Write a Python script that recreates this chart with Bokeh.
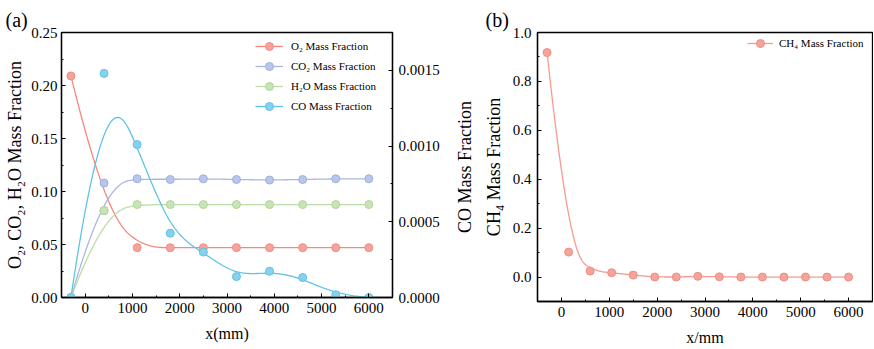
import numpy as np
from bokeh.plotting import figure
from bokeh.models import (Range1d, LinearAxis, SingleIntervalTicker, FixedTicker,
                          NumeralTickFormatter, Legend, LegendItem)
from bokeh.layouts import row
from bokeh.embed import file_html
from bokeh.resources import INLINE

# ---------------- data ----------------
x_a = [-300, 400, 1100, 1800, 2500, 3200, 3900, 4600, 5300, 6000]
o2 = [0.209, 0.082, 0.047, 0.047, 0.047, 0.047, 0.047, 0.047, 0.047, 0.047]
co2 = [0.0, 0.108, 0.112, 0.1113, 0.112, 0.1113, 0.1108, 0.1113, 0.112, 0.112]
h2o = [0.0, 0.082, 0.0877, 0.0877, 0.0877, 0.0877, 0.0877, 0.0877, 0.0877, 0.0877]
co = [0.0, 0.00148, 0.00101, 0.000425, 0.000300, 0.000138, 0.000173, 0.000132, 0.000018, 0.0]

x_b = [-300, 150, 600, 1050, 1500, 1950, 2400, 2850, 3300, 3750, 4200, 4650, 5100, 5550, 6000]
ch4 = [0.918, 0.102, 0.0245, 0.0177, 0.008, 0.0, 0.0, 0.003, 0.001, 0.0, 0.0, 0.0, 0.0, 0.0, 0.0]

labels_a = ["O\u2082 Mass Fraction", "CO\u2082 Mass Fraction", "H\u2082O Mass Fraction", "CO Mass Fraction"]
label_b = "CH\u2084 Mass Fraction"
co_axis_title = "CO Mass Fraction"

FONT = "Liberation Serif"


def bspline(xs, ys, k=3, num=400):
    """Clamped uniform cubic B-spline using the data points as control points."""
    P = np.column_stack([xs, ys]).astype(float)
    n = len(P)
    nseg = n - k
    knots = np.concatenate([np.zeros(k), np.arange(nseg + 1), np.full(k, nseg)]).astype(float)
    u = np.linspace(0, nseg, num)
    m = len(knots) - 1
    N = np.zeros((num, m))
    for i in range(m):
        N[:, i] = ((u >= knots[i]) & (u < knots[i + 1])).astype(float)
    last = np.where(knots[:-1] < knots[1:])[0][-1]
    N[u >= nseg, :] = 0
    N[u >= nseg, last] = 1
    for d in range(1, k + 1):
        Nn = np.zeros((num, m - d))
        for i in range(m - d):
            a = knots[i + d] - knots[i]
            b = knots[i + d + 1] - knots[i + 1]
            t1 = (u - knots[i]) / a * N[:, i] if a > 0 else 0.0
            t2 = (knots[i + d + 1] - u) / b * N[:, i + 1] if b > 0 else 0.0
            Nn[:, i] = t1 + t2
        N = Nn
    C = N @ P
    return C[:, 0], C[:, 1]


def style_axis(ax, fmt, interval, label, label_size, tick_standoff, label_standoff):
    ax.ticker = SingleIntervalTicker(interval=interval, num_minor_ticks=2)
    ax.formatter = NumeralTickFormatter(format=fmt)
    ax.axis_label = label
    ax.axis_label_text_font = FONT
    ax.axis_label_text_font_style = "normal"
    ax.axis_label_text_font_size = label_size
    ax.axis_label_text_color = "black"
    ax.major_label_text_font = FONT
    ax.major_label_text_font_size = "15px"
    ax.major_label_text_color = "black"
    ax.major_tick_in = 4
    ax.major_tick_out = 0
    ax.minor_tick_in = 2
    ax.minor_tick_out = 0
    ax.major_tick_line_color = "black"
    ax.minor_tick_line_color = "black"
    ax.axis_line_color = "black"
    ax.axis_line_width = 1.3
    ax.major_label_standoff = tick_standoff
    ax.axis_label_standoff = label_standoff


def base_fig(border_left, frame_w, border_right, border_top, frame_h, yr, panel_text, title_offset):
    p = figure(frame_width=frame_w, frame_height=frame_h, min_border_left=border_left,
               min_border_right=border_right, min_border_top=border_top,
               min_border_bottom=348 - border_top - frame_h,
               x_range=Range1d(-500, 6500), y_range=yr,
               output_backend="svg", toolbar_location=None)
    p.xgrid.visible = False
    p.ygrid.visible = False
    p.outline_line_color = "black"
    p.outline_line_width = 1.3
    p.outline_line_alpha = 1.0
    p.background_fill_color = "white"
    p.border_fill_color = "white"
    p.title.text = panel_text
    p.title.text_font = FONT
    p.title.text_font_size = "20px"
    p.title.text_font_style = "normal"
    p.title.text_color = "black"
    p.title.align = "left"
    p.title.vertical_align = "top"
    p.title.standoff = 0
    p.title.offset = title_offset
    return p


# ---------------- panel (a) ----------------
p1 = base_fig(61, 331, 55, 32, 265, Range1d(0, 0.25), "(a)", -56)
p1.extra_y_ranges = {"co": Range1d(0, 0.00175)}

style_axis(p1.xaxis[0], "0", 1000, "x(mm)", "16px", 5, 9)
style_axis(p1.yaxis[0], "0.00", 0.05, "O\u2082, CO\u2082, H\u2082O Mass Fraction", "18px", 4, 3)

ax_r = LinearAxis(y_range_name="co")
style_axis(ax_r, "0.0000", 0.0005, None, "18px", 6, 2)
p1.add_layout(ax_r, "right")

series = [
    (o2, "#F7877C", "#F5A39B", "#EE8D84", "default"),
    (co2, "#A8B8E4", "#B8C6EA", "#9FB0DE", "default"),
    (h2o, "#BCDDA6", "#C8E3B5", "#B2D69B", "default"),
    (co, "#5EC3E4", "#86D2EE", "#5FC0E2", "co"),
]
items = []
for (ys, lc, fc, mc, rn), lab in zip(series, labels_a):
    sx, sy = bspline(x_a, ys)
    r_line = p1.line(sx, sy, line_color=lc, line_width=1.3, y_range_name=rn)
    r_pts = p1.scatter(x_a, ys, marker="circle", size=8, fill_color=fc, line_color=mc,
                       line_width=1, y_range_name=rn)
    items.append(LegendItem(label=lab, renderers=[r_line, r_pts]))

leg1 = Legend(items=items, location=(189, 176), padding=5, margin=0, spacing=0,
              glyph_width=28, glyph_height=20, label_height=20, label_standoff=8,
              label_text_font=FONT, label_text_font_size="11px", label_text_color="black",
              border_line_alpha=0, background_fill_alpha=0)
p1.add_layout(leg1)

# ---------------- panel (b) ----------------
p2 = base_fig(90, 335, 1, 28, 269, Range1d(-0.1, 1.0), "(b)", -52)
style_axis(p2.xaxis[0], "0", 1000, "x/mm", "16px", 5, 9)
style_axis(p2.yaxis[0], "0.0", 0.2, "CH\u2084 Mass Fraction", "18px", 6, 6)

# title of panel (a)'s right-hand CO axis, which sits in the gap between the panels
co_title_axis = LinearAxis(ticker=FixedTicker(ticks=[]), axis_label=co_axis_title,
                           axis_label_text_font=FONT, axis_label_text_font_style="normal",
                           axis_label_text_font_size="18px", axis_label_text_color="black",
                           axis_label_standoff=6, major_label_standoff=0,
                           major_tick_in=0, major_tick_out=0, minor_tick_in=0, minor_tick_out=0,
                           axis_line_alpha=0)
p2.add_layout(co_title_axis, "left")

bx, by = bspline(x_b, ch4)
l2 = p2.line(bx, by, line_color="#F89A90", line_width=1.3)
s2 = p2.scatter(x_b, ch4, marker="circle", size=8, fill_color="#F5A39B", line_color="#EE8D84",
                line_width=1)
leg2 = Legend(items=[LegendItem(label=label_b, renderers=[l2, s2])], location=(208, 246),
              padding=2, margin=0, spacing=0, glyph_width=26, glyph_height=20, label_height=20,
              label_standoff=6, label_text_font=FONT, label_text_font_size="11px",
              label_text_color="black", border_line_alpha=0, background_fill_alpha=0)
p2.add_layout(leg2)

layout = row(p1, p2)
open("out.html", "w").write(file_html(layout, INLINE))
